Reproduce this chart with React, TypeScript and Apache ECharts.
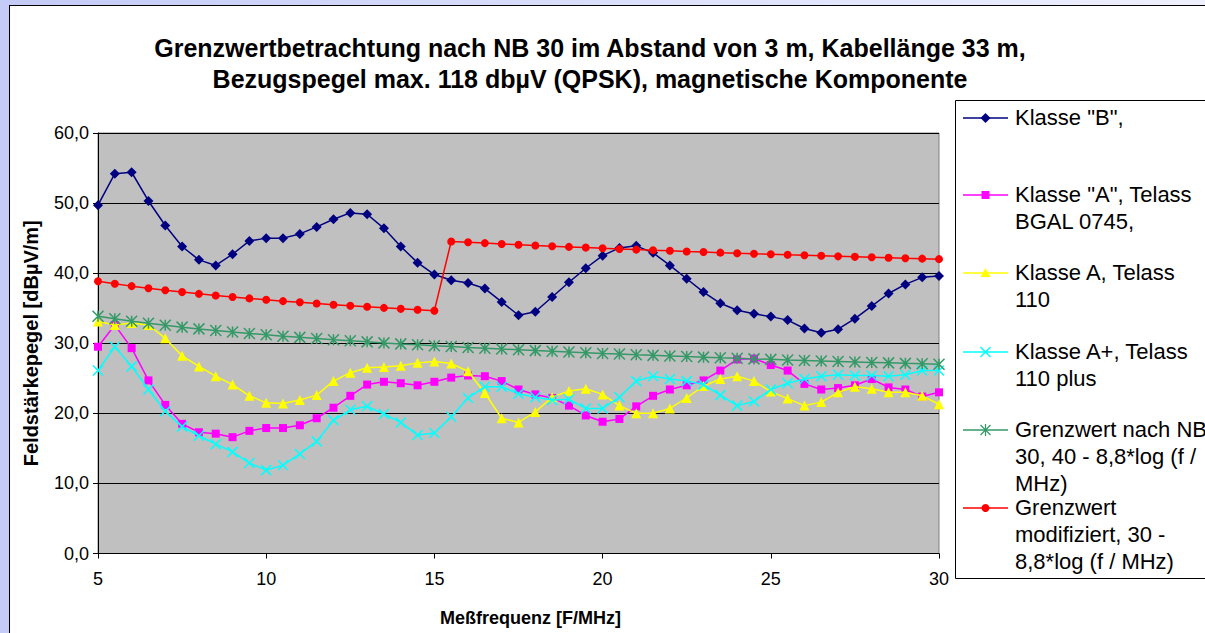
import React, { useEffect, useRef } from "react";
import * as echarts from "echarts";

const FONT = "'Liberation Sans', Arial, Helvetica, sans-serif";

const freqs = [
  5, 5.5, 6, 6.5, 7, 7.5, 8, 8.5, 9, 9.5, 10, 10.5, 11, 11.5, 12, 12.5, 13,
  13.5, 14, 14.5, 15, 15.5, 16, 16.5, 17, 17.5, 18, 18.5, 19, 19.5, 20, 20.5,
  21, 21.5, 22, 22.5, 23, 23.5, 24, 24.5, 25, 25.5, 26, 26.5, 27, 27.5, 28,
  28.5, 29, 29.5, 30,
];

const klasseB = [
  49.7, 54.2, 54.4, 50.3, 46.8, 43.8, 41.9, 41.1, 42.7, 44.6, 45.0, 45.0, 45.6,
  46.6, 47.7, 48.6, 48.4, 46.4, 43.8, 41.5, 39.8, 39.0, 38.6, 37.8, 35.9, 34.0,
  34.5, 36.6, 38.7, 40.7, 42.5, 43.6, 43.9, 42.9, 41.1, 39.2, 37.3, 35.7,
  34.7, 34.2, 33.8, 33.3, 32.1, 31.5, 32.0, 33.5, 35.3, 37.1, 38.4, 39.4, 39.6,
];

const klasseA = [
  29.5, 32.6, 29.3, 24.7, 21.2, 18.5, 17.3, 17.1, 16.6, 17.5, 17.9, 17.9, 18.3,
  19.3, 20.8, 22.5, 24.1, 24.5, 24.3, 24.0, 24.5, 25.1, 25.4, 25.3, 24.6, 23.4,
  22.7, 22.2, 21.1, 19.7, 18.8, 19.2, 21.0, 22.5, 23.4, 24.0, 24.7, 26.1,
  27.7, 27.8, 26.9, 26.1, 24.2, 23.4, 23.6, 24.0, 24.9, 23.7, 23.4, 22.4, 23.0,
];

const telass110 = [
  33.1, 32.6, 32.9, 32.6, 30.7, 28.2, 26.7, 25.3, 24.1, 22.5, 21.5, 21.4, 21.9,
  22.6, 24.6, 25.8, 26.5, 26.6, 26.8, 27.2, 27.4, 27.1, 26.0, 22.9, 19.3, 18.7,
  20.2, 22.3, 23.2, 23.5, 22.7, 21.1, 20.0, 20.0, 20.7, 22.2, 23.9, 24.9,
  25.3, 24.6, 23.1, 22.1, 21.1, 21.6, 23.0, 23.8, 23.5, 23.0, 23.0, 22.5, 21.3,
];

const telass110plus = [
  26.1, 29.5, 26.7, 23.4, 20.3, 18.1, 16.8, 15.6, 14.5, 12.9, 11.9, 12.6, 14.2,
  16.0, 19.0, 20.5, 21.0, 19.9, 18.7, 16.9, 17.2, 19.5, 22.2, 23.8, 23.8, 22.8,
  22.3, 21.9, 22.0, 20.7, 20.7, 22.3, 24.6, 25.3, 24.9, 24.6, 24.1, 22.6,
  21.1, 21.7, 23.4, 24.3, 24.9, 25.3, 25.5, 25.4, 25.4, 25.3, 25.5, 26.1, 26.1,
];

const grenzNB30 = [
  33.85, 33.49, 33.15, 32.85, 32.56, 32.30, 32.05, 31.82, 31.60, 31.40, 31.20,
  31.01, 30.84, 30.67, 30.50, 30.35, 30.20, 30.05, 29.91, 29.78, 29.65, 29.53,
  29.40, 29.29, 29.17, 29.06, 28.95, 28.85, 28.75, 28.65, 28.55, 28.46, 28.36,
  28.27, 28.19, 28.10, 28.02, 27.93, 27.85, 27.77, 27.70, 27.62, 27.55, 27.48,
  27.40, 27.33, 27.26, 27.20, 27.13, 27.07, 27.00,
];

const grenzModifiziert = [
  38.85, 38.49, 38.15, 37.85, 37.56, 37.30, 37.05, 36.82, 36.60, 36.40, 36.20,
  36.01, 35.84, 35.67, 35.50, 35.35, 35.20, 35.05, 34.91, 34.78, 34.65, 44.53,
  44.40, 44.29, 44.17, 44.06, 43.95, 43.85, 43.75, 43.65, 43.55, 43.46, 43.36,
  43.27, 43.19, 43.10, 43.02, 42.93, 42.85, 42.77, 42.70, 42.62, 42.55, 42.48,
  42.40, 42.33, 42.26, 42.20, 42.13, 42.07, 42.00,
];

const seriesNames = [
  'Klasse "B",',
  'Klasse "A", Telass BGAL 0745,',
  "Klasse A, Telass 110",
  "Klasse A+, Telass 110 plus",
  "Grenzwert nach NB 30, 40 - 8,8*log (f / MHz)",
  "Grenzwert modifiziert, 30 - 8,8*log (f / MHz)",
];

const legendLines = [
  ['Klasse "B",'],
  ['Klasse "A", Telass', "BGAL 0745,"],
  ["Klasse A, Telass", "110"],
  ["Klasse A+, Telass", "110 plus"],
  ["Grenzwert nach NB", "30, 40 - 8,8*log (f /", "MHz)"],
  ["Grenzwert", "modifiziert, 30 -", "8,8*log (f / MHz)"],
];

const colors = ["#000080", "#ff00ff", "#ffff00", "#00ffff", "#339966", "#ff0000"];

const titleLines = [
  "Grenzwertbetrachtung nach NB 30 im Abstand von 3 m, Kabellänge 33 m,",
  "Bezugspegel max. 118 dbµV (QPSK), magnetische Komponente",
];

const xTitle = "Meßfrequenz [F/MHz]";
const yTitle = "Feldstärkepegel [dBµV/m]";

const X_SYMBOL = "path://M0,0L10,10M10,0L0,10";
const STAR_SYMBOL = "path://M5,0L5,10M0,0L10,10M10,0L0,10";

function buildLegend() {
  const els: any[] = [];
  const boxX = 955.5;
  const boxY = 100.5;
  els.push({
    type: "rect",
    z: 100,
    shape: { x: boxX, y: boxY, width: 300, height: 478 },
    style: { fill: "#ffffff", stroke: "#000000", lineWidth: 1 },
  });
  const markerY = [118, 195, 273, 352, 430, 508];
  const lineH = 26.7;
  const mx = 985.5;
  legendLines.forEach((lines, i) => {
    const y = markerY[i];
    const c = colors[i];
    els.push({
      type: "line",
      z: 101,
      shape: { x1: 963, y1: y, x2: 1008, y2: y },
      style: { stroke: c, lineWidth: 1.5 },
    });
    if (i === 0) {
      els.push({
        type: "polygon",
        z: 102,
        shape: { points: [[mx, y - 5], [mx + 5, y], [mx, y + 5], [mx - 5, y]] },
        style: { fill: c },
      });
    } else if (i === 1) {
      els.push({
        type: "rect",
        z: 102,
        shape: { x: mx - 4, y: y - 4, width: 8, height: 8 },
        style: { fill: c },
      });
    } else if (i === 2) {
      els.push({
        type: "polygon",
        z: 102,
        shape: { points: [[mx, y - 5], [mx + 5, y + 4], [mx - 5, y + 4]] },
        style: { fill: c },
      });
    } else if (i === 3) {
      els.push({ type: "line", z: 102, shape: { x1: mx - 5, y1: y - 5, x2: mx + 5, y2: y + 5 }, style: { stroke: c, lineWidth: 1.5 } });
      els.push({ type: "line", z: 102, shape: { x1: mx + 5, y1: y - 5, x2: mx - 5, y2: y + 5 }, style: { stroke: c, lineWidth: 1.5 } });
    } else if (i === 4) {
      els.push({ type: "line", z: 102, shape: { x1: mx - 5, y1: y - 5, x2: mx + 5, y2: y + 5 }, style: { stroke: c, lineWidth: 1.2 } });
      els.push({ type: "line", z: 102, shape: { x1: mx + 5, y1: y - 5, x2: mx - 5, y2: y + 5 }, style: { stroke: c, lineWidth: 1.2 } });
      els.push({ type: "line", z: 102, shape: { x1: mx, y1: y - 6, x2: mx, y2: y + 6 }, style: { stroke: c, lineWidth: 1.2 } });
    } else {
      els.push({ type: "circle", z: 102, shape: { cx: mx, cy: y, r: 4 }, style: { fill: c } });
    }
    els.push({
      type: "text",
      z: 103,
      x: 1015,
      y: y - lineH / 2,
      style: {
        text: lines.join("\n"),
        fill: "#000",
        fontSize: 22,
        fontFamily: FONT,
        lineHeight: lineH,
        align: "left",
        verticalAlign: "top",
      },
    });
  });
  return els;
}

export default function App() {
  const ref = useRef<HTMLDivElement>(null);
  useEffect(() => {
    document.body.style.margin = "0";
    const chart = echarts.init(ref.current!, null, { renderer: "svg" });
    const dataSets = [klasseB, klasseA, telass110, telass110plus, grenzNB30, grenzModifiziert];
    const symbols = ["diamond", "rect", "triangle", X_SYMBOL, STAR_SYMBOL, "circle"];
    const sizes = [10, 8, 10, 10, 11, 8];
    const series = dataSets.map((arr, i) => {
      const isPath = i === 3 || i === 4;
      return {
        name: seriesNames[i],
        type: "line",
        data: freqs.map((f, k) => [f, arr[k]]),
        symbol: symbols[i],
        symbolSize: sizes[i],
        showSymbol: true,
        lineStyle: { color: colors[i], width: 1.5 },
        itemStyle: isPath
          ? { color: "rgba(0,0,0,0)", borderColor: colors[i], borderWidth: 1.5 }
          : { color: colors[i], borderWidth: 0 },
        emphasis: { disabled: true },
        z: 2 + i,
      };
    });
    chart.setOption({
      animation: false,
      backgroundColor: "transparent",
      textStyle: { fontFamily: FONT },
      title: {
        text: titleLines.join("\n"),
        left: 585,
        top: 27,
        textAlign: "center",
        textStyle: {
          fontSize: 25,
          fontWeight: "bold",
          fontFamily: FONT,
          color: "#000",
          lineHeight: 31,
        },
      },
      grid: {
        left: 98,
        top: 133,
        right: 266,
        bottom: 79.5,
        show: true,
        backgroundColor: "#c0c0c0",
        borderColor: "#808080",
        borderWidth: 1,
        containLabel: false,
      },
      xAxis: {
        type: "value",
        min: 5,
        max: 30,
        interval: 5,
        name: xTitle,
        nameLocation: "middle",
        nameGap: 55,
        nameTextStyle: {
          fontSize: 18,
          fontWeight: "bold",
          color: "#000",
          fontFamily: FONT,
          padding: [0, 0, 0, 24],
        },
        axisLine: { show: true, onZero: false, lineStyle: { color: "#000", width: 1 } },
        axisTick: { show: true, length: 5, lineStyle: { color: "#000" } },
        axisLabel: { fontSize: 18, color: "#000", margin: 16, fontFamily: FONT },
        splitLine: { show: false },
      },
      yAxis: {
        type: "value",
        min: 0,
        max: 60,
        interval: 10,
        name: yTitle,
        nameLocation: "middle",
        nameGap: 57,
        nameTextStyle: {
          fontSize: 20,
          fontWeight: "bold",
          color: "#000",
          fontFamily: FONT,
        },
        axisLine: { show: true, onZero: false, lineStyle: { color: "#000", width: 1 } },
        axisTick: { show: true, length: 5, lineStyle: { color: "#000" } },
        axisLabel: {
          fontSize: 18,
          color: "#000",
          margin: 9,
          fontFamily: FONT,
          formatter: (v: number) => v.toFixed(1).replace(".", ","),
        },
        splitLine: { show: true, lineStyle: { color: "#000", width: 1 } },
      },
      graphic: buildLegend(),
      series,
    });
    return () => chart.dispose();
  }, []);
  return (
    <div
      style={{
        position: "relative",
        width: 1205,
        height: 633,
        overflow: "hidden",
        background: "linear-gradient(90deg, #c3cbf6 0%, #dfe3fb 60%, #eef0fd 100%)",
      }}
    >
      <div
        style={{
          position: "absolute",
          left: 9,
          top: 5,
          width: 1260,
          height: 700,
          background: "#ffffff",
          border: "1px solid #000",
        }}
      />
      <div ref={ref} style={{ position: "absolute", left: 0, top: 0, width: 1205, height: 633 }} />
    </div>
  );
}
